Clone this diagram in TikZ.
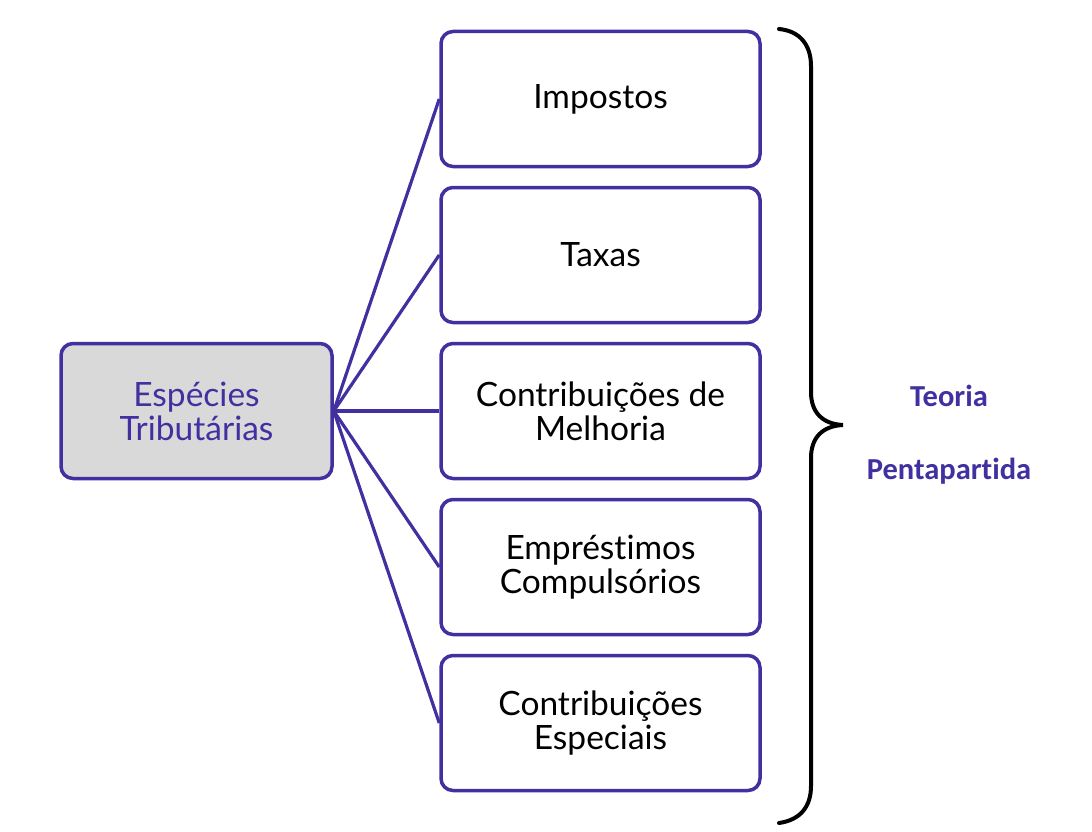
\documentclass[tikz,border=0pt]{standalone}
\usepackage{fontspec}
\setmainfont[Ligatures=NoCommon]{Lato}
\newfontfamily\calib[Ligatures=NoCommon]{Carlito}
\definecolor{purp}{HTML}{4030A0}
\definecolor{grayfill}{HTML}{D9D9D9}
\begin{document}
\begin{tikzpicture}[x=1pt,y=-1pt,
  box/.style={draw=purp, line width=3.5pt, rounded corners=12pt, fill=white,
    minimum width=319pt, minimum height=135pt, align=center, inner sep=0pt,
    font=\fontsize{33.5}{34}\selectfont, text=black},
  mainbox/.style={box, fill=grayfill, minimum width=271pt, text=purp},
  conn/.style={draw=purp, line width=3.2pt},
  side/.style={text=purp, font=\calib\bfseries\fontsize{30.5}{34}\selectfont}]
\useasboundingbox (0,0) rectangle (1092,832);
\node[mainbox] (m) at (196.5,411) {Espécies\\Tributárias};
\node[box] (b1) at (600.5,99) {Impostos};
\node[box] (b2) at (600.5,255) {Taxas};
\node[box] (b3) at (600.5,411) {Contribuições de\\Melhoria};
\node[box] (b4) at (600.5,567) {Empréstimos\\Compulsórios};
\node[box] (b5) at (600.5,723) {Contribuições\\Especiais};
\foreach \b in {b1,b2,b3,b4,b5} \draw[conn] (m.east) -- (\b.west);
\draw[line width=4pt, line cap=round] (779,29) .. controls (800,31) and (811,45) .. (811,66)
  -- (811,392) .. controls (811,412) and (822,424) .. (843,425)
  .. controls (822,426) and (811,438) .. (811,458)
  -- (811,786) .. controls (811,807) and (800,820) .. (779,823);
\node[side] (t1) at (949,396) {Teoria};
\node[side] (t2) at (949,471) {Pentapartida};
\end{tikzpicture}
\end{document}
